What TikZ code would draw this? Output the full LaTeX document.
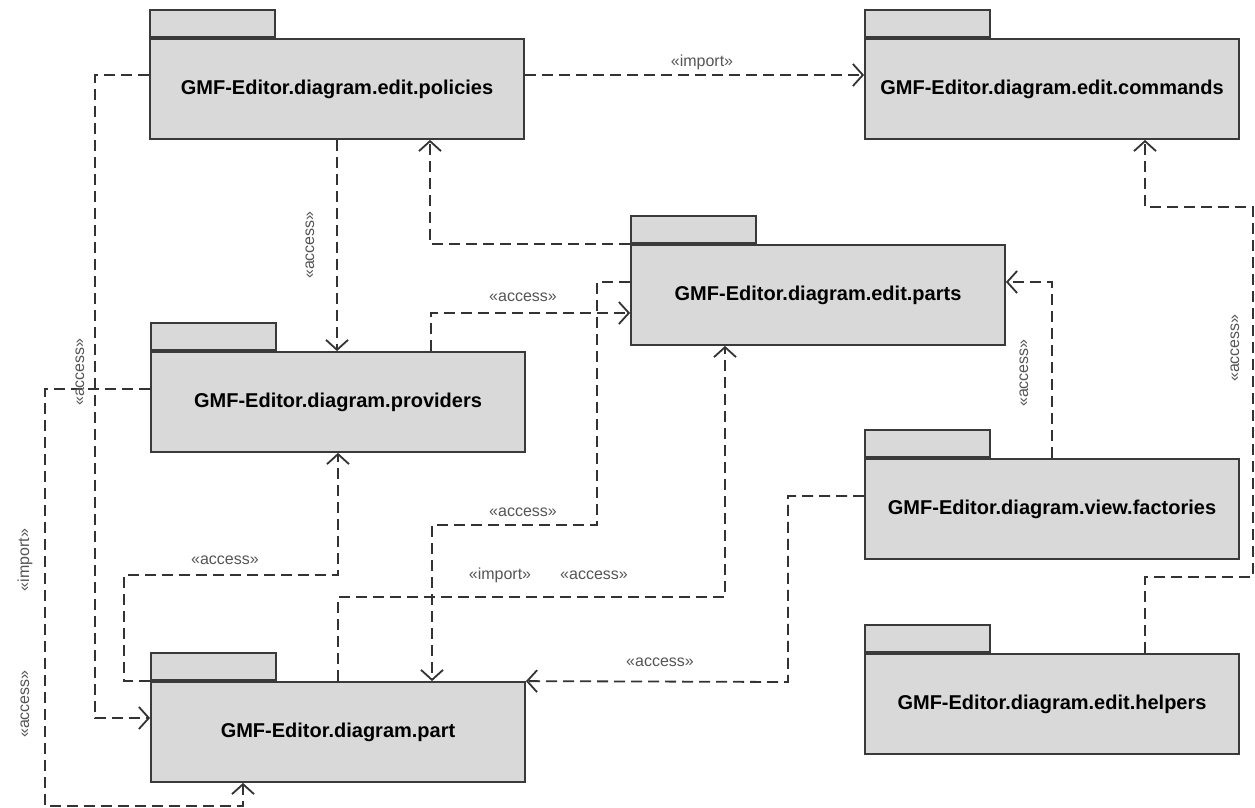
\documentclass[tikz,border=0pt]{standalone}
\usepackage{fontspec}
\setmainfont{Liberation Sans}
\usepackage{xcolor}
\usepackage{tikz}
\usetikzlibrary{positioning, arrows.meta}

\definecolor{pkgfill}{HTML}{D9D9D9}
\definecolor{pkgline}{HTML}{3A3A3A}
\definecolor{depline}{HTML}{333333}
\definecolor{lblgray}{HTML}{555555}

\begin{document}
\begin{tikzpicture}[x=1pt, y=-1pt,
        package/.style={
                rectangle,
                draw=pkgline,
                fill=pkgfill,
                line width=1.8pt,
                minimum width=374pt,
                minimum height=100pt,
                inner sep=0pt,
                font=\fontsize{20}{24}\selectfont\bfseries,
        },
        pkgtab/.style={
                rectangle,
                draw=pkgline,
                fill=pkgfill,
                line width=1.8pt,
                minimum width=125pt,
                minimum height=27pt,
                inner sep=0pt,
        },
        dep/.style={
                draw=depline,
                line width=1.8pt,
                dash pattern=on 11pt off 6pt,
                -{Straight Barb[length=10pt, width=22pt]},
        },
        stereo/.style={
                text=lblgray,
                font=\fontsize{16}{18}\selectfont,
                inner sep=1pt,
        }]
            \useasboundingbox (0, 0) rectangle (1255, 808);

            % packages
            \node[package] (policies) at (337, 89) {GMF-Editor.diagram.edit.policies};
            \node[package] (commands) at (1052, 89) {GMF-Editor.diagram.edit.commands};
            \node[package] (parts) at (818, 295) {GMF-Editor.diagram.edit.parts};
            \node[package] (providers) at (338, 402) {GMF-Editor.diagram.providers};
            \node[package] (factories) at (1052, 509) {GMF-Editor.diagram.view.factories};
            \node[package] (part) at (338, 732) {GMF-Editor.diagram.part};
            \node[package] (helpers) at (1052, 704) {GMF-Editor.diagram.edit.helpers};

            \foreach \p in {policies, commands, parts, providers, factories, part, helpers}
                \node[pkgtab, above right=0pt and 0pt of \p.north west] (\p-tab) {};

            % dependencies
            \draw[dep] ([yshift=14pt]policies.west) -| (95, 718) -- ([yshift=14pt]part.west);
            \draw[dep] (policies.south) -- (policies.south |- providers.north);
            \draw[dep] ([yshift=14pt]policies.east) -- ([yshift=14pt]commands.west);
            \draw[dep] (parts.north west) -| ([xshift=93pt]policies.south);
            \draw[dep] ([xshift=93pt]providers.north) |- ([yshift=-18pt]parts.west);
            \draw[dep] ([yshift=13pt]parts.west) -| (597, 525) -| ([xshift=94pt]part.north);
            \draw[dep] (part.north west) -| (124, 575) -| (providers.south);
            \draw[dep] (part.north) |- (725, 597) -- ([xshift=-93pt]parts.south);
            \draw[dep] (factories.north) |- ([yshift=13pt]parts.east);
            \draw[dep] ([yshift=13pt]factories.west) -| (788, 682) -- (part.north east);
            \draw[dep] ([xshift=93pt]helpers.north) |- (1253, 577) |- (1145, 207) -- ([xshift=93pt]commands.south);
            \draw[dep] ([yshift=13pt]providers.west) -| (45, 806) -| ([xshift=-95pt]part.south);

            % stereotypes
            \node[stereo] (imp-cmd) at (702, 62) {«import»};
            \node[stereo, rotate=90] (acc-pol-prv) at (310, 245) {«access»};
            \node[stereo, rotate=90] (acc-pol-prt) at (80, 372) {«access»};
            \node[stereo] (acc-prv-par) at (523, 297) {«access»};
            \node[stereo] (acc-par-prt) at (523, 512) {«access»};
            \node[stereo] (acc-prt-prv) at (225, 560) {«access»};
            \node[stereo] (imp-prt-par) at (500, 575) {«import»};
            \node[stereo] (acc-prt-par) at (594, 575) {«access»};
            \node[stereo, rotate=90] (acc-fac-par) at (1024, 373) {«access»};
            \node[stereo] (acc-fac-prt) at (660, 662) {«access»};
            \node[stereo, rotate=90] (acc-hlp-cmd) at (1235, 348) {«access»};
            \node[stereo, rotate=90] (imp-prv-prt) at (25, 560) {«import»};
            \node[stereo, rotate=90] (acc-prv-prt) at (25, 704) {«access»};
        \end{tikzpicture}
\end{document}
